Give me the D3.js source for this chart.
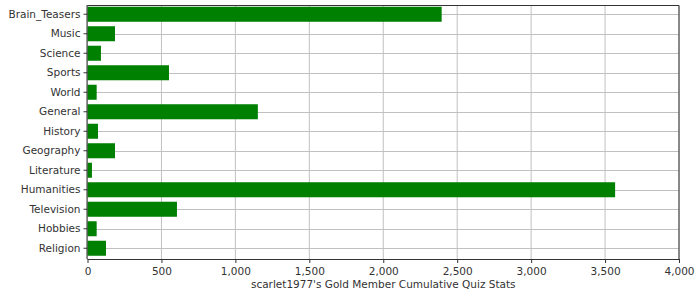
<!DOCTYPE html>
<html>
<head>
<meta charset="utf-8">
<script src="https://cdn.jsdelivr.net/npm/d3@7"></script>
<style>
  body { margin: 0; background: #fff; }
  text { font-family: "DejaVu Sans", sans-serif; font-size: 10.5px; fill: #333; }
</style>
</head>
<body>
<div id="wrapper"></div>
<script>
// data
const categories = ["Brain_Teasers", "Music", "Science", "Sports", "World", "General", "History",
  "Geography", "Literature", "Humanities", "Television", "Hobbies", "Religion"]
const values = [2395, 186, 91, 551, 62, 1152, 71, 186, 30, 3568, 605, 62, 125]
const xTicks = [0, 500, 1000, 1500, 2000, 2500, 3000, 3500, 4000]
const xTitle = "scarlet1977's Gold Member Cumulative Quiz Stats"

const dataset = categories.map((c, i) => ({ name: c, value: values[i] }))

// dimensions
const dimensions = {
  width: 700,
  height: 300,
  margin: { top: 5, right: 21, bottom: 41, left: 87.5 },
}
dimensions.boundedWidth = dimensions.width - dimensions.margin.left - dimensions.margin.right
dimensions.boundedHeight = dimensions.height - dimensions.margin.top - dimensions.margin.bottom

const svg = d3.select("#wrapper").append("svg")
  .attr("width", dimensions.width)
  .attr("height", dimensions.height)

const bounds = svg.append("g")
  .attr("transform", `translate(${dimensions.margin.left},${dimensions.margin.top})`)

// scales
const xScale = d3.scaleLinear()
  .domain([0, 4000])
  .range([0, dimensions.boundedWidth])

const yScale = d3.scaleBand()
  .domain(categories)
  .range([-0.5, dimensions.boundedHeight - 1])
  .paddingInner(0.23)
  .paddingOuter(0.115)

// grid
bounds.append("g")
  .selectAll("line")
  .data(xTicks)
  .join("line")
  .attr("x1", d => xScale(d)).attr("x2", d => xScale(d))
  .attr("y1", 0).attr("y2", dimensions.boundedHeight)
  .attr("stroke", "#c0c0c0")

bounds.append("g")
  .selectAll("line")
  .data(categories)
  .join("line")
  .attr("x1", 0).attr("x2", dimensions.boundedWidth)
  .attr("y1", d => Math.round(yScale(d) + yScale.bandwidth() / 2) + 0.5)
  .attr("y2", d => Math.round(yScale(d) + yScale.bandwidth() / 2) + 0.5)
  .attr("stroke", "#c0c0c0")

// bars
bounds.append("g")
  .selectAll("rect")
  .data(dataset)
  .join("rect")
  .attr("x", 0)
  .attr("y", d => yScale(d.name))
  .attr("width", d => xScale(d.value))
  .attr("height", yScale.bandwidth())
  .attr("fill", "#008000")

// outline top/right
bounds.append("path")
  .attr("d", `M0,0.5H${dimensions.boundedWidth}V${dimensions.boundedHeight}`)
  .attr("fill", "none")
  .attr("stroke", "#333")

// axes
const xAxis = bounds.append("g")
  .attr("transform", `translate(0,${dimensions.boundedHeight})`)
  .call(d3.axisBottom(xScale).tickValues(xTicks).tickSize(4).tickPadding(5).tickFormat(d3.format(",")))
xAxis.selectAll(".domain").attr("stroke", "#333").attr("d", `M0,0.5H${dimensions.boundedWidth}`)
xAxis.selectAll(".tick line").attr("stroke", "#333")
xAxis.selectAll("text").attr("fill", null)
xAxis.attr("font-size", null).attr("font-family", null)

const yAxis = bounds.append("g")
  .call(d3.axisLeft(yScale).tickSize(4).tickPadding(3))
yAxis.selectAll(".domain").attr("stroke", "#333").attr("d", `M-0.5,0V${dimensions.boundedHeight}`)
yAxis.selectAll(".tick line").attr("stroke", "#333")
yAxis.attr("font-size", null).attr("font-family", null)
yAxis.selectAll("text").attr("fill", null)

// title
bounds.append("text")
  .attr("x", dimensions.boundedWidth / 2)
  .attr("y", dimensions.boundedHeight + 29)
  .attr("text-anchor", "middle")
  .text(xTitle)
</script>
</body>
</html>
